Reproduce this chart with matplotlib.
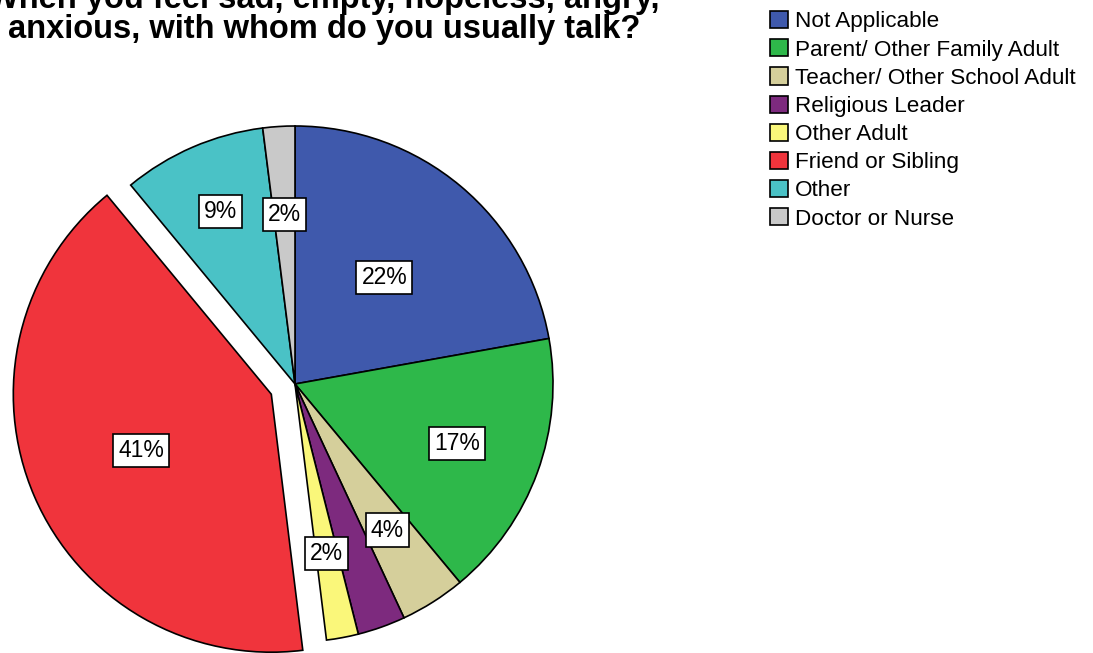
import matplotlib.pyplot as plt
import numpy as np

plt.rcParams['font.family'] = ['Liberation Sans', 'DejaVu Sans']

# Data
categories = ["Not Applicable", "Parent/ Other Family Adult", "Teacher/ Other School Adult",
              "Religious Leader", "Other Adult", "Friend or Sibling", "Other", "Doctor or Nurse"]
percent = [22.2, 16.8, 4.1, 3.0, 2.0, 41.0, 9.0, 2.0]
pct_labels = ["22%", "17%", "4%", "", "2%", "41%", "9%", "2%"]
colors = ["#3F59AC", "#2EB84A", "#D5CF9B", "#7D2A7E", "#FAF77A", "#F0343C", "#4AC2C6", "#C9C9C9"]
explode = [0, 0, 0, 0, 0, 0.1, 0, 0]

# label distance from wedge centre (in radii)
label_r = [0.54, 0.67, 0.67, 0.6, 0.67, 0.55, 0.73, 0.66]

W, H = 1093, 653
cx, cy, R = 295, 384, 258

fig = plt.figure(figsize=(W / 100, H / 100), dpi=100)
ax = fig.add_axes([0, 0, 1, 1])

wedges, _ = ax.pie(percent, colors=colors, explode=explode, startangle=90,
                   counterclock=False, frame=True,
                   wedgeprops=dict(edgecolor="black", linewidth=1.2))
ax.set_xlim(-cx / R, (W - cx) / R)
ax.set_ylim(-(H - cy) / R, cy / R)
ax.set_aspect("auto")
ax.axis("off")

for w, lab, r in zip(wedges, pct_labels, label_r):
    if not lab:
        continue
    mid = np.deg2rad((w.theta1 + w.theta2) / 2)
    x0, y0 = w.center
    ax.text(x0 + r * np.cos(mid), y0 + r * np.sin(mid), lab, ha="center", va="center",
            fontsize=16.5,
            bbox=dict(boxstyle="square,pad=0.22", fc="white", ec="black", lw=1.2))

fig.text(324 / W, 1 - 45 / H,
         "When you feel sad, empty, hopeless, angry,\nanxious, with whom do you usually talk?",
         ha="center", va="bottom", fontsize=23.5, fontweight="bold", linespacing=0.95)

leg = fig.legend(wedges, categories, loc="upper left", bbox_to_anchor=(770 / W, 1 - 11 / H),
                 frameon=False, fontsize=16.2, handlelength=0.8, handleheight=0.8,
                 handletextpad=0.3, labelspacing=0.3, borderpad=0, borderaxespad=0)

fig.savefig("out.png", dpi=100)
